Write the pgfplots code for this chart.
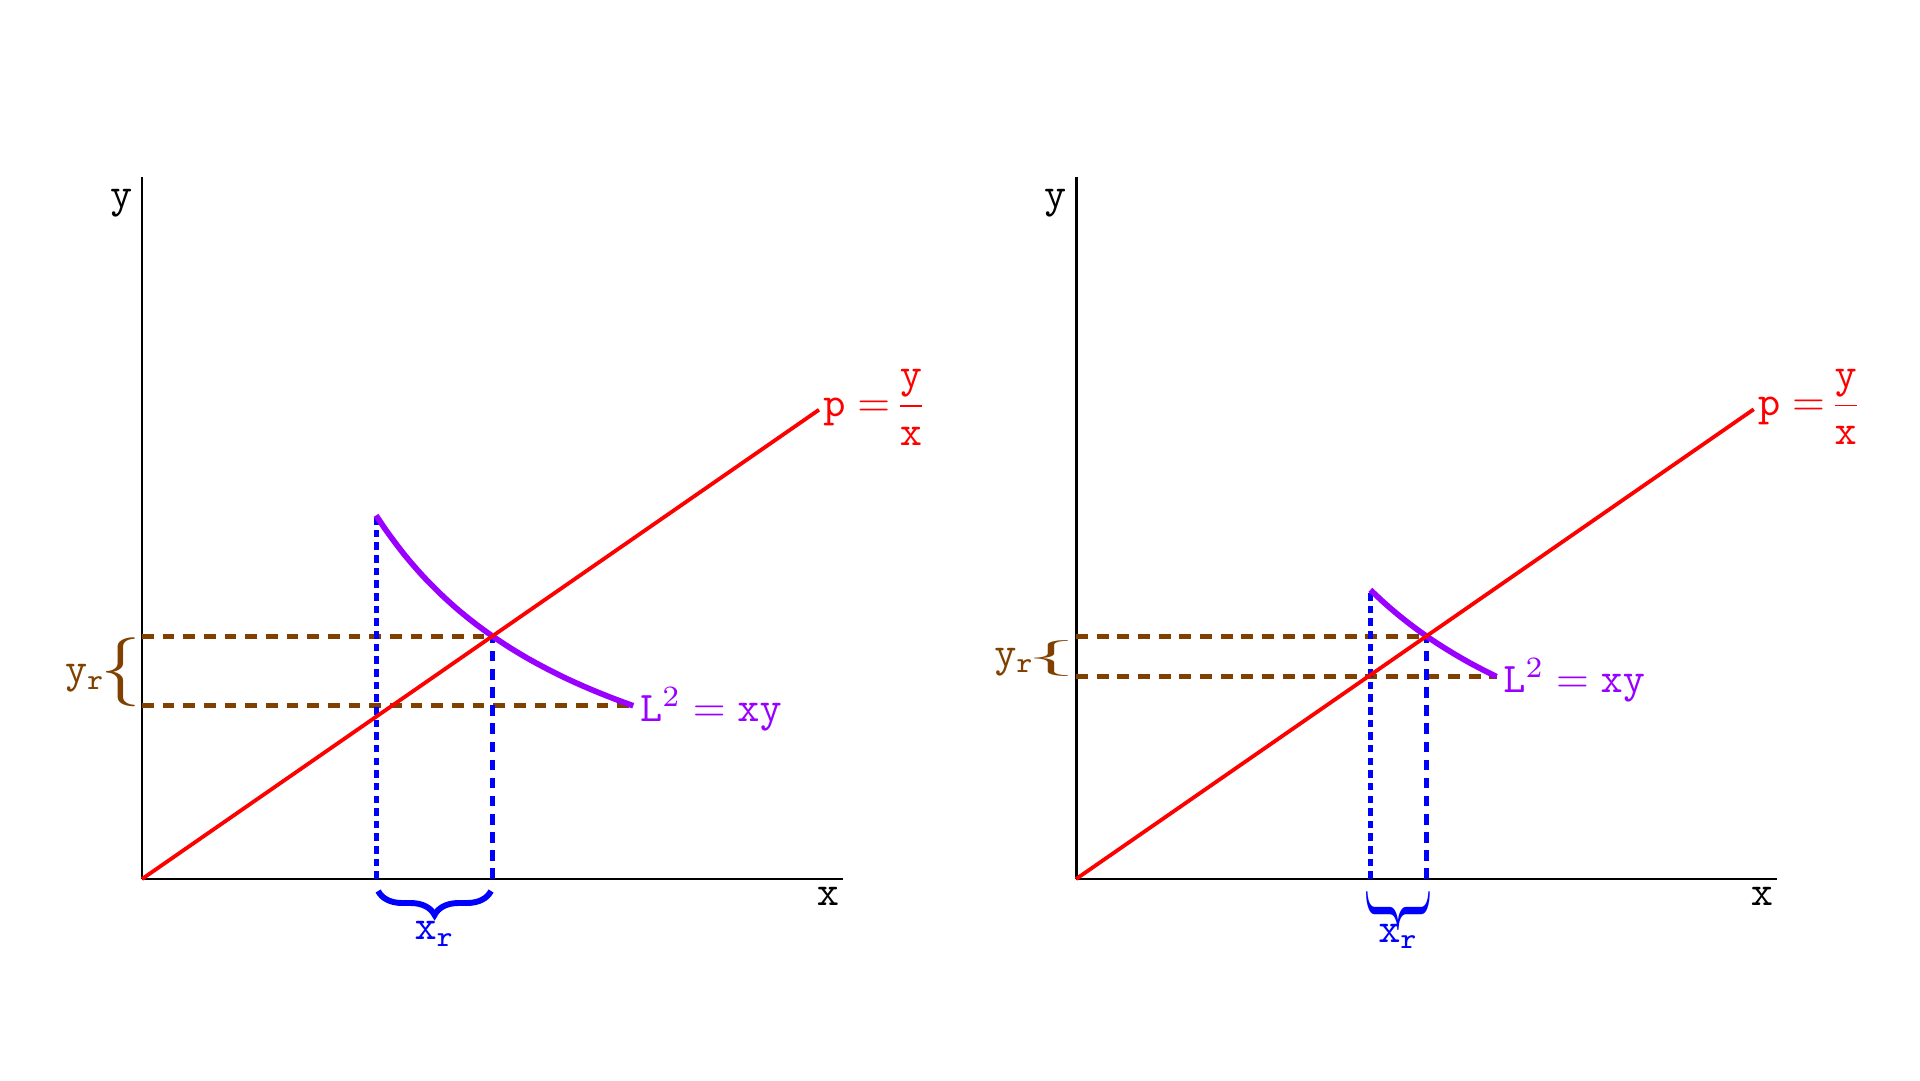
\documentclass[border=0pt]{standalone}
\usepackage{pgfplots}
\pgfplotsset{compat=1.18}
\usepackage{graphicx}
\usetikzlibrary{decorations.pathreplacing}
\definecolor{mypurple}{RGB}{153,0,255}
\definecolor{mybrown}{RGB}{128,64,0}
\definecolor{myblue}{RGB}{0,0,255}
\definecolor{myred}{RGB}{255,0,0}
\pgfplotsset{
  econ/.style={scale only axis, width=5.84cm, height=5.85cm,
    xmin=0, xmax=10, ymin=0, ymax=10,
    axis lines=left, axis line style={-, line width=0.7pt, black},
    xtick=\empty, ytick=\empty, clip=false, anchor=south west},
  pline/.style={myred, line width=0.9pt},
  lcurve/.style={mypurple, line width=1.35pt, smooth},
  bdash/.style={mybrown, line width=1.2pt, dash pattern=on 2.8pt off 2.1pt},
  vdash/.style={myblue, line width=1.2pt, dash pattern=on 2.5pt off 1.8pt},
  vdot/.style={myblue, line width=1.2pt, dash pattern=on 1.8pt off 1.2pt},
}
\begin{document}
\begin{tikzpicture}
\path[use as bounding box] (0,0) rectangle (16cm,9cm);
% ---------- left panel ----------
\begin{axis}[econ, at={(1.1833cm,1.675cm)}]
\addplot[bdash] coordinates {(0,3.46) (5,3.46)};
\addplot[bdash] coordinates {(0,2.468) (7.01,2.468)};
\addplot[vdot] coordinates {(3.34,0) (3.34,5.18)};
\addplot[vdash] coordinates {(5,0) (5,3.46)};
\addplot[lcurve] coordinates {
 (3.34,5.180) (3.5,4.943) (3.75,4.613) (4.0,4.325) (4.25,4.071) (4.5,3.844)
 (4.75,3.642) (5.0,3.460) (5.25,3.295) (5.5,3.145) (5.75,3.009) (6.0,2.883)
 (6.25,2.768) (6.5,2.662) (6.75,2.563) (7.01,2.468)};
\addplot[pline] coordinates {(0,0) (9.66,6.684)};
\node[anchor=base west, inner sep=0pt, text=myred, xshift=0.03cm, yshift=-0.055cm]
  at (axis cs:9.66,6.684) {$\mathtt{p}=\!{\displaystyle\frac{\mathtt{y}}{\mathtt{x}}}$};
\node[anchor=base west, inner sep=0pt, text=mypurple, xshift=0.05cm, yshift=-0.133cm]
  at (axis cs:7.01,2.468) {$\mathtt{L}^2=\mathtt{xy}$};
\node[anchor=base east, inner sep=0pt, xshift=-0.075cm, yshift=-0.25cm]
  at (axis cs:0,10) {$\mathtt{y}$};
\node[anchor=base east, inner sep=0pt, xshift=-0.025cm, yshift=-0.22cm]
  at (axis cs:10,0) {$\mathtt{x}$};
\draw[myblue, line width=1.4pt, decorate, decoration={brace, mirror, amplitude=0.2cm}]
  ([yshift=-0.1cm]axis cs:3.37,0) -- ([yshift=-0.1cm]axis cs:4.98,0);
\node[anchor=base, inner sep=0pt, text=myblue, yshift=-0.508cm]
  at (axis cs:4.175,0) {$\mathtt{x}_\mathtt{r}$};
\node[anchor=east, inner sep=0pt, text=mybrown]
  at (axis cs:0,2.946) {\resizebox*{0.34cm}{0.575cm}{$\{$}};
\node[anchor=base east, inner sep=0pt, text=mybrown, xshift=-0.30cm]
  at (axis cs:0,2.796) {$\mathtt{y}_\mathtt{r}$};
\end{axis}
% ---------- right panel ----------
\begin{axis}[econ, at={(8.967cm,1.675cm)}]
\addplot[bdash] coordinates {(0,3.46) (5,3.46)};
\addplot[bdash] coordinates {(0,2.883) (6.0,2.883)};
\addplot[vdot] coordinates {(4.2,0) (4.2,4.119)};
\addplot[vdash] coordinates {(5,0) (5,3.46)};
\addplot[lcurve] coordinates {
 (4.2,4.119) (4.4,3.932) (4.6,3.761) (4.8,3.604) (5.0,3.460)
 (5.2,3.327) (5.4,3.204) (5.6,3.089) (5.8,2.983) (6.0,2.883)};
\addplot[pline] coordinates {(0,0) (9.67,6.691)};
\node[anchor=base west, inner sep=0pt, text=myred, xshift=0.03cm, yshift=-0.055cm]
  at (axis cs:9.67,6.691) {$\mathtt{p}=\!{\displaystyle\frac{\mathtt{y}}{\mathtt{x}}}$};
\node[anchor=base west, inner sep=0pt, text=mypurple, xshift=0.05cm, yshift=-0.133cm]
  at (axis cs:6.0,2.883) {$\mathtt{L}^2=\mathtt{xy}$};
\node[anchor=base east, inner sep=0pt, xshift=-0.075cm, yshift=-0.25cm]
  at (axis cs:0,10) {$\mathtt{y}$};
\node[anchor=base east, inner sep=0pt, xshift=-0.025cm, yshift=-0.22cm]
  at (axis cs:10,0) {$\mathtt{x}$};
\node[anchor=north, inner sep=0pt, text=myblue, yshift=-0.03cm]
  at (axis cs:4.6,0) {\resizebox*{0.53cm}{0.46cm}{\rotatebox{-90}{$\}$}}};
\node[anchor=base, inner sep=0pt, text=myblue, yshift=-0.525cm]
  at (axis cs:4.6,0) {$\mathtt{x}_\mathtt{r}$};
\node[anchor=east, inner sep=0pt, text=mybrown]
  at (axis cs:0,3.136) {\resizebox*{0.40cm}{0.30cm}{$\{$}};
\node[anchor=base east, inner sep=0pt, text=mybrown, xshift=-0.34cm]
  at (axis cs:0,3.033) {$\mathtt{y}_\mathtt{r}$};
\end{axis}
\end{tikzpicture}
\end{document}
